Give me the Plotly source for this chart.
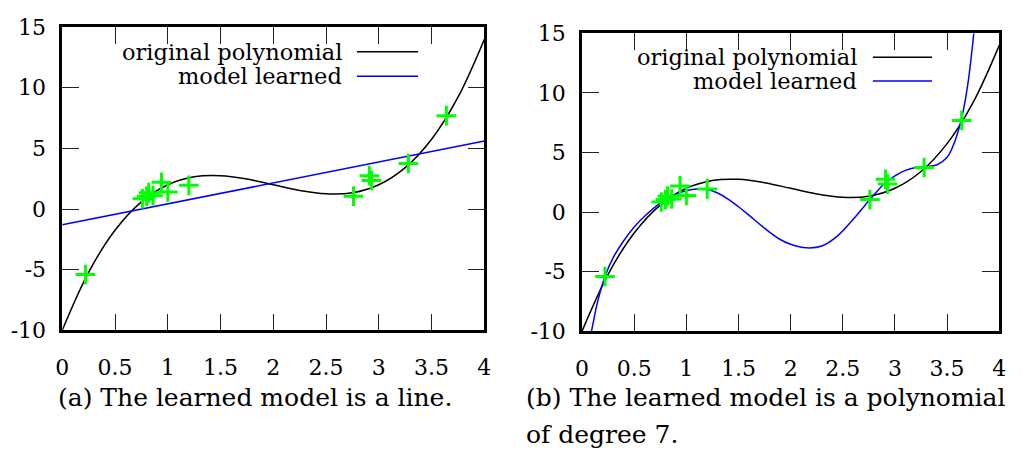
import plotly.graph_objects as go

# ---- data ----
orig_x = [0, 0.25, 0.5, 0.75, 1.0, 1.25, 1.5, 1.75, 2.0, 2.25, 2.5, 2.75, 3.0, 3.25, 3.5, 3.75, 4.0]
orig_y = [-10, -5.22, -1.75, 0.59, 2.0, 2.66, 2.75, 2.47, 2.0, 1.53, 1.25, 1.34, 2.0, 3.41, 5.75, 9.22, 14.0]

line_x = [0, 4]
line_y = [-1.3, 5.6]

poly7_x = [0.05, 0.1, 0.15, 0.22, 0.3, 0.4, 0.5, 0.6, 0.75, 0.9, 1.0, 1.1, 1.2, 1.3, 1.4, 1.5, 1.6,
           1.75, 1.9, 2.0, 2.15, 2.3, 2.45, 2.6, 2.75, 2.9, 3.0, 3.1, 3.2, 3.3, 3.4, 3.5, 3.55,
           3.6, 3.65, 3.7, 3.75, 3.8]
poly7_y = [-11.8, -9.6, -7.5, -5.4, -3.8, -2.4, -1.25, -0.35, 0.75, 1.5, 1.8, 1.95, 1.9, 1.6, 1.1,
           0.45, -0.25, -1.35, -2.3, -2.7, -3.0, -2.85, -2.0, -0.6, 0.95, 2.4, 3.05, 3.5, 3.75,
           3.82, 3.95, 4.6, 5.4, 6.6, 8.3, 10.8, 14.5, 19.0]

pts_x = [0.22, 0.76, 0.80, 0.82, 0.86, 0.94, 1.0, 1.2, 2.76, 2.91, 2.93, 3.28, 3.64]
pts_y = [-5.4, 0.85, 1.05, 1.35, 1.1, 2.2, 1.4, 1.95, 1.05, 2.75, 2.35, 3.75, 7.7]

xtick_vals = [0, 0.5, 1, 1.5, 2, 2.5, 3, 3.5, 4]
xtick_text = ["0", "0.5", "1", "1.5", "2", "2.5", "3", "3.5", "4"]
ytick_vals = [-10, -5, 0, 5, 10, 15]
ytick_text = ["-10", "-5", "0", "5", "10", "15"]

legend_labels = ["original polynomial", "model learned"]
caption_a = "(a) The learned model is a line."
caption_b1 = "(b) The learned model is a polynomial"
caption_b2 = "of degree 7."

BLACK = "#000000"
BLUE = "#0000ff"
GREEN = "#00ff00"
FONT = "DejaVu Serif"

fig = go.Figure()

for ax, model_x, model_y, spline in [("", line_x, line_y, False), ("2", poly7_x, poly7_y, True)]:
    xa = "x" + ax
    ya = "y" + ax
    fig.add_trace(go.Scatter(x=orig_x, y=orig_y, mode="lines", xaxis=xa, yaxis=ya,
                             line=dict(color=BLACK, width=1.5, shape="spline"), showlegend=False))
    fig.add_trace(go.Scatter(x=model_x, y=model_y, mode="lines", xaxis=xa, yaxis=ya,
                             line=dict(color=BLUE, width=1.5, shape="spline" if spline else "linear"),
                             showlegend=False))
    fig.add_trace(go.Scatter(x=pts_x, y=pts_y, mode="markers", xaxis=xa, yaxis=ya,
                             marker=dict(symbol="cross-thin", size=14, color=GREEN,
                                         line=dict(width=3, color=GREEN)),
                             showlegend=False))

axis_common = dict(showline=True, linewidth=2.5, linecolor=BLACK, mirror="ticks",
                   ticks="inside", ticklen=17, tickwidth=1, tickcolor="#222222",
                   showgrid=False, zeroline=False,
                   tickfont=dict(family=FONT, size=22, color=BLACK))

fig.update_layout(
    width=1023, height=450,
    margin=dict(l=0, r=0, t=0, b=0),
    paper_bgcolor="white", plot_bgcolor="white",
    xaxis=dict(domain=[56 / 1023, 484 / 1023], range=[0, 4], anchor="y",
               tickvals=xtick_vals, ticktext=xtick_text, ticklabelstandoff=16, **axis_common),
    yaxis=dict(domain=[1 - 337 / 450, 1 - 16 / 450], range=[-10, 15], anchor="x",
               tickvals=ytick_vals, ticktext=ytick_text, ticklabelstandoff=9, **axis_common),
    xaxis2=dict(domain=[583 / 1023, 1006 / 1023], range=[0, 4], anchor="y2",
                tickvals=xtick_vals, ticktext=xtick_text, ticklabelstandoff=16, **axis_common),
    yaxis2=dict(domain=[1 - 338 / 450, 1 - 22.7 / 450], range=[-10, 15], anchor="x2",
                tickvals=ytick_vals, ticktext=ytick_text, ticklabelstandoff=9, **axis_common),
)

# manual gnuplot-style legends (text right-aligned, sample on the right)
legend_pos = [
    ("", 0.668, 0.698, 0.843, [0.919, 0.838]),
    ("2", 0.664, 0.697, 0.839, [0.920, 0.840]),
]
for ax, tx, l0, l1, ys in legend_pos:
    for label, color, yy in zip(legend_labels, [BLACK, BLUE], ys):
        fig.add_annotation(x=tx, y=yy, xref="x" + ax + " domain", yref="y" + ax + " domain",
                           text=label, showarrow=False, xanchor="right", yanchor="middle",
                           font=dict(family=FONT, size=22.5, color=BLACK))
        fig.add_shape(type="line", x0=l0, x1=l1, y0=yy, y1=yy,
                      xref="x" + ax + " domain", yref="y" + ax + " domain",
                      line=dict(color=color, width=1.5))

# captions
for text, x, y in [(caption_a, 50, 408), (caption_b1, 524, 408), (caption_b2, 524, 447)]:
    fig.add_annotation(x=x / 1023, y=1 - y / 450, xref="paper", yref="paper", text=text,
                       showarrow=False, xanchor="left", yanchor="middle",
                       font=dict(family=FONT, size=25, color=BLACK))

fig.write_html("out.html")
